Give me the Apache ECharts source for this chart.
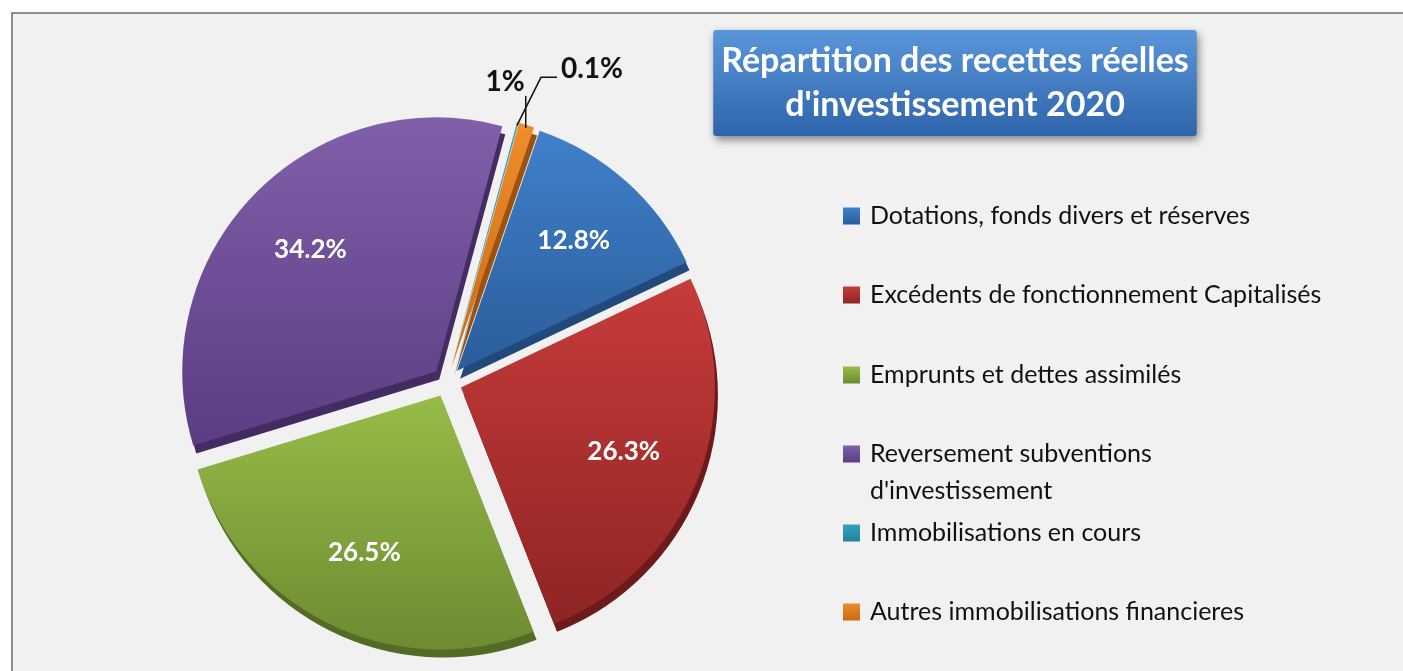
<!DOCTYPE html>
<html>
<head>
<meta charset="utf-8">
<script src="https://cdn.jsdelivr.net/npm/echarts@6/dist/echarts.min.js"></script>
<style>
  html, body { margin: 0; padding: 0; background: #ffffff; overflow: hidden; }
  #frame { position: absolute; left: 11px; top: 12px; width: 1420px; height: 700px;
           background: #f1f1f1; border: 2px solid #8e8e8e; }
  #main { position: absolute; left: 0; top: 0; width: 1403px; height: 671px; }
</style>
</head>
<body>
<div id="frame"></div>
<div id="main"></div>
<script>
// data
var categories = [
  'Dotations, fonds divers et réserves',
  'Excédents de fonctionnement Capitalisés',
  'Emprunts et dettes assimilés',
  "Reversement subventions d'investissement",
  'Immobilisations en cours',
  'Autres immobilisations financieres'
];
var values = [12.8, 26.3, 26.5, 34.2, 0.1, 1];
var colorsTop = ['#4081ca', '#c63c3a', '#97bc48', '#8060aa', '#33a3c0', '#ef8d2c'];
var colorsBottom = ['#2b5c9a', '#8f2424', '#6d8b31', '#5a3d82', '#23819b', '#c96a14'];
var colorsSide = ['#22497b', '#6c1a1a', '#536b25', '#422c61', '#1b6375', '#9b5210'];

var titleText = 'Répartition des recettes réelles\nd\'investissement 2020';

var chart = echarts.init(document.getElementById('main'));

function grad(top, bottom) {
  return new echarts.graphic.LinearGradient(0, 0, 0, 1, [
    { offset: 0, color: top },
    { offset: 1, color: bottom }
  ]);
}

var faceData = categories.map(function (name, i) {
  return {
    name: name,
    value: values[i],
    selected: true,
    itemStyle: { color: grad(colorsTop[i], colorsBottom[i]) }
  };
});

var sideData = categories.map(function (name, i) {
  return { name: name, value: values[i], selected: true, itemStyle: { color: colorsSide[i] } };
});

var labelData = categories.map(function (name, i) {
  var small = values[i] < 5;
  return {
    name: name,
    value: values[i],
    label: small ? {
      position: 'outside',
      color: '#111',
      fontSize: 28,
      fontWeight: 'bold'
    } : { position: 'inside' },
    labelLine: small ? { show: true, length: 30, length2: 10, lineStyle: { color: '#111', width: 1.5 } } : { show: false }
  };
});

var legendTops = [201, 280, 360, 439, 518, 597];
var legends = categories.map(function (name, i) {
  return {
    data: [name],
    left: 843,
    top: legendTops[i],
    padding: 0,
    itemWidth: 17,
    itemHeight: 17,
    icon: 'rect',
    selectedMode: false,
    formatter: function (n) {
      return n === categories[3] ? 'Reversement subventions' : n;
    },
    textStyle: {
      fontFamily: 'Lato',
      fontSize: 25,
      lineHeight: 30,
      color: '#111',
      padding: [0, 0, 0, 5]
    }
  };
});

chart.setOption({
  backgroundColor: 'transparent',
  animation: false,
  color: colorsTop,
  title: {
    text: titleText,
    left: 947,
    top: 30,
    textAlign: 'center',
    padding: [9, 8],
    backgroundColor: grad('#5a96da', '#2e64ab'),
    borderRadius: 3,
    shadowBlur: 8,
    shadowColor: 'rgba(0,0,0,0.45)',
    shadowOffsetX: 2,
    shadowOffsetY: 4,
    textStyle: {
      fontFamily: 'Lato',
      fontSize: 34,
      fontWeight: 'bold',
      lineHeight: 44,
      color: '#ffffff'
    }
  },
  legend: legends,
  graphic: [{
    type: 'text',
    left: 870,
    top: 478,
    style: { text: 'd\'investissement', font: '25px Lato', fill: '#111' }
  }],
  series: [
    {
      name: 'face',
      type: 'pie',
      center: [447, 382],
      radius: 254,
      startAngle: 71,
      selectedMode: 'multiple',
      selectedOffset: 15,
      z: 2,
      label: { show: false },
      labelLine: { show: false },
      itemStyle: { borderWidth: 0 },
      data: faceData
    },
    {
      name: 'side',
      type: 'pie',
      center: [450, 390],
      radius: 254,
      startAngle: 71,
      selectedMode: 'multiple',
      selectedOffset: 15,
      silent: true,
      z: 1,
      label: { show: false },
      labelLine: { show: false },
      data: sideData
    },
    {
      // invisible ring used only to place the percentage labels
      name: 'labels',
      type: 'pie',
      center: [447, 382],
      radius: [108, 266],
      startAngle: 71,
      silent: true,
      z: 3,
      itemStyle: { color: 'rgba(0,0,0,0)' },
      label: {
        show: true,
        formatter: function (p) { return p.value + '%'; },
        fontFamily: 'Lato',
        fontSize: 26,
        fontWeight: 'bold',
        color: '#ffffff'
      },
      labelLayout: function (p) {
        var pts = p.labelLinePoints;
        if (!pts) return;
        var a = pts[0];
        if (p.dataIndex === 5) {
          // 1% : short vertical leader, text on its left
          return {
            x: a[0] - 1, y: a[1] - 46, align: 'right', verticalAlign: 'middle',
            labelLinePoints: [a, [a[0], a[1] - 32], [a[0], a[1] - 32]]
          };
        }
        if (p.dataIndex === 4) {
          // 0.1% : slanted leader then short horizontal
          return {
            x: a[0] + 44, y: a[1] - 56, align: 'left', verticalAlign: 'middle',
            labelLinePoints: [a, [a[0] + 24, a[1] - 48], [a[0] + 40, a[1] - 48]]
          };
        }
      },
      data: labelData
    }
  ]
});
</script>
</body>
</html>
